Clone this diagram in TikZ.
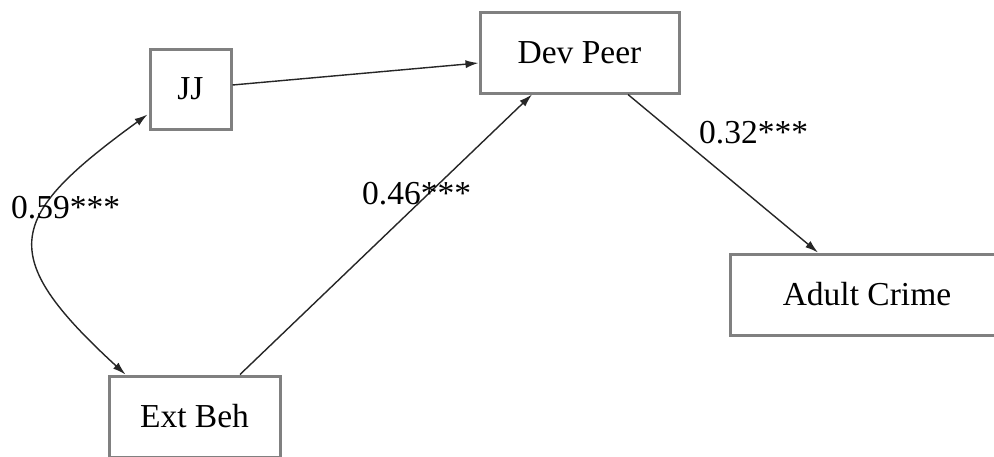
\documentclass[tikz,border=0pt]{standalone}
\usepackage{fontspec}
\setmainfont{Liberation Serif}
\usetikzlibrary{arrows.meta,calc}
\begin{document}
\begin{tikzpicture}[x=1pt,y=-1pt,
  varbox/.style={draw=black!50, line width=3pt, fill=white, inner sep=0pt,
    minimum height=81pt, font=\fontsize{33.5}{40}\selectfont},
  path/.style={draw=black!85, line width=1.4pt, -{Latex[length=13pt,width=8pt]}},
  coef/.style={anchor=base west, inner sep=0pt, font=\fontsize{33.5}{40}\selectfont}]
\useasboundingbox (0,0) rectangle (994,456);
\clip (0,0) rectangle (994,456);
\fill[white] (0,0) rectangle (994,456);

% variables
\node[varbox, minimum width=81pt, minimum height=80pt] (jj) at (190.5,89) {JJ};
\node[varbox, minimum width=199pt] (dev) at (579.5,52.5) {Dev Peer};
\node[varbox, minimum width=273pt] (crime) at (867,294.5) {Adult Crime};
\node[varbox, minimum width=171pt] (ext) at (194.5,416.5) {Ext Beh};

% paths
\draw[path] ($(jj.east)+(0,-4)$) -- ($(dev.west)+(0,10.5)$);
\draw[path] ($(ext.north)+(45.5,0)$) -- ($(dev.south)+(-47.5,0)$);
\draw[path] ($(dev.south)+(48.5,0)$) -- ($(crime.north)+(-49,0)$);

% covariance
\draw[path, {Latex[length=13pt,width=8pt]}-{Latex[length=13pt,width=8pt]}]
  ($(jj.south west)+(-1,-16)$) .. controls +(-140,102) and +(-132,-121) .. ($(ext.north west)+(18,0)$);

% coefficients
\node[coef] (c1) at (11,218) {0.59***};
\node[coef] (c2) at (362,204) {0.46***};
\node[coef] (c3) at (699,143) {0.32***};
\end{tikzpicture}
\end{document}
